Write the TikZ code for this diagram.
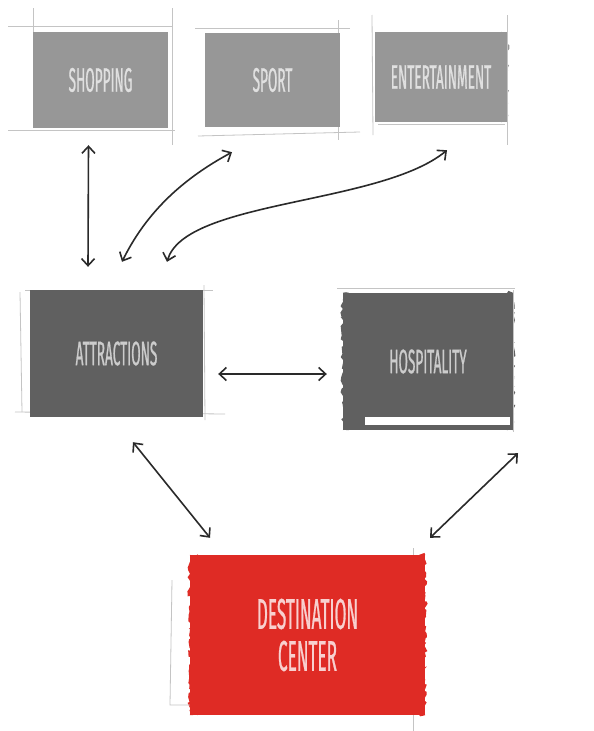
\documentclass[tikz,border=0pt]{standalone}
\usepackage{fontspec}
\usepackage{tikz}
\usetikzlibrary{arrows.meta,decorations.pathmorphing,backgrounds}
\newfontfamily\sketchfont[FakeStretch=0.4,FakeBold=0.6]{Fira Sans}
\definecolor{lightbox}{HTML}{979797}
\definecolor{darkbox}{HTML}{606060}
\definecolor{redbox}{HTML}{DF2B25}
\definecolor{pencil}{HTML}{C4C4C4}
\definecolor{ink}{HTML}{2A2A2A}

\begin{document}
\begin{tikzpicture}[x=1pt,y=-1pt,
    box/.style={fill=#1,inner sep=0pt,align=center},
    label/.style={font=\sketchfont\fontsize{34}{34}\selectfont},
    biglabel/.style={font=\sketchfont\fontsize{43}{42}\selectfont},
    sketch/.style={draw=pencil,line width=0.8pt},
    rough/.style={decorate,decoration={random steps,segment length=3pt,amplitude=2.5pt}},
    link/.style={{Straight Barb[length=7pt,width=13pt]}-{Straight Barb[length=7pt,width=13pt]},line width=1.6pt,draw=ink}]
            \useasboundingbox (0,0) rectangle (594,731);
            \pgfmathsetseed{7}

            \draw[sketch] (8,26) -- (172,26);
            \draw[sketch] (8,130) -- (175,130);
            \draw[sketch] (33,8) -- (33,128);
            \draw[sketch] (172,8) -- (172,145);
            \draw[sketch] (195,28) -- (350,28);
            \draw[sketch] (198,136) -- (360,132);
            \draw[sketch] (338,20) -- (338,140);
            \draw[sketch] (372,15) -- (373,135);
            \draw[sketch] (507,15) -- (507,145);
            \draw[sketch] (378,124) -- (505,124);
            \draw[sketch] (20,292) -- (22,412);
            \draw[sketch] (15,412) -- (225,414);
            \draw[sketch] (25,290) -- (213,290);
            \draw[sketch] (204,285) -- (205,420);
            \draw[sketch] (337,288) -- (515,288);
            \draw[sketch] (513,290) -- (513,432);
            \draw[sketch] (413,548) -- (413,731);
            \draw[sketch] (172,580) -- (170,705) -- (192,705);

            \node[box=lightbox,minimum width=135pt,minimum height=96pt,text=white!88!black,label] (shopping) at (100.5,80) {SHOPPING};
            \node[box=lightbox,minimum width=135pt,minimum height=94pt,text=white!88!black,label] (sport) at (272.5,80) {SPORT};
            \node[box=lightbox,minimum width=132pt,minimum height=90pt,text=white!88!black,label] (entertainment) at (441,77) {ENTERTAINMENT};
            \node[box=darkbox,minimum width=173pt,minimum height=127pt,text=white!80!black,label] (attractions) at (116.5,353.5) {ATTRACTIONS};
            \node[box=darkbox,minimum width=170pt,minimum height=137pt,text=white!80!black,label] (hospitality) at (428,361.5) {HOSPITALITY};
            \node[box=redbox,minimum width=235pt,minimum height=160pt,text=white!78!redbox,biglabel] (destination) at (307.5,635) {DESTINATION\\CENTER};

            \begin{scope}[on background layer]
            \fill[white] (0,0) rectangle (594,731);
            \fill[lightbox,rough] (entertainment.south east) rectangle ([xshift=-6pt]entertainment.north east);
            \fill[darkbox,rough] (hospitality.south west) rectangle ([xshift=6pt]hospitality.north west);
            \fill[darkbox,rough] ([xshift=-6pt]hospitality.south east) rectangle (hospitality.north east);
            \fill[redbox,rough] (destination.south west) rectangle ([xshift=8pt]destination.north west);
            \fill[redbox,rough] ([xshift=-6pt]destination.south east) rectangle (destination.north east);
            \end{scope}
            \fill[white] (365,417) rectangle (510,425);

            \draw[link] ([shift={(-12,17)}]shopping.south) -- ([shift={(-28.5,-23)}]attractions.north);
            \draw[link] ([shift={(5.5,-28)}]attractions.north) .. controls +(23,-47) and +(-52,28) .. ([shift={(-40.5,25)}]sport.south);
            \draw[link] ([shift={(50.5,-28)}]attractions.north) .. controls +(18,-62) and +(-67,55) .. ([shift={(6,28)}]entertainment.south);
            \draw[link] ([shift={(15,20.5)}]attractions.east) -- ([shift={(-16,12.5)}]hospitality.west);
            \draw[link] ([shift={(16.5,25)}]attractions.south) -- ([shift={(-97.5,-17)}]destination.north);
            \draw[link] ([shift={(90,23)}]hospitality.south) -- ([shift={(122.5,-17)}]destination.north);
\end{tikzpicture}
\end{document}
